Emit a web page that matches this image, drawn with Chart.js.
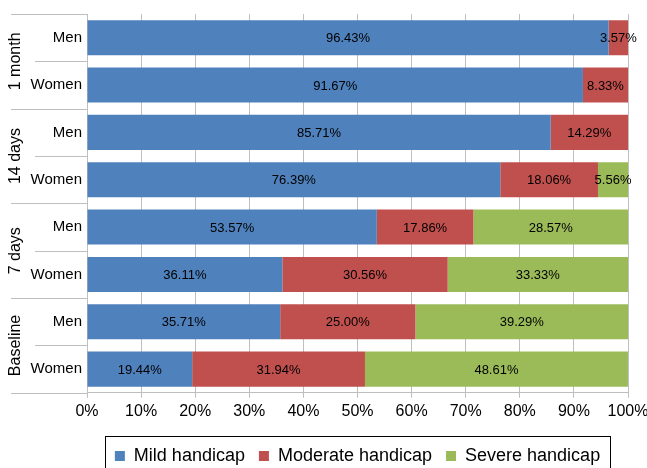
<!DOCTYPE html>
<html>
<head>
<meta charset="utf-8">
<script src="https://cdn.jsdelivr.net/npm/chart.js@4/dist/chart.umd.min.js"></script>
<style>
  html, body { margin: 0; padding: 0; background: #fff; overflow: hidden; }
  #wrap { width: 647px; height: 475px; position: relative; }
</style>
</head>
<body>
<div id="wrap"><canvas id="chart"></canvas></div>
<script>
// rows top to bottom
var groups = ['1 month', '14 days', '7 days', 'Baseline'];
var rows = ['Men', 'Women', 'Men', 'Women', 'Men', 'Women', 'Men', 'Women'];
var mild = [96.43, 91.67, 85.71, 76.39, 53.57, 36.11, 35.71, 19.44];
var moderate = [3.57, 8.33, 14.29, 18.06, 17.86, 30.56, 25.00, 31.94];
var severe = [0, 0, 0, 5.56, 28.57, 33.33, 39.29, 48.61];
var seriesNames = ['Mild handicap', 'Moderate handicap', 'Severe handicap'];
var colors = ['#4F81BD', '#C0504D', '#9BBB59'];

Chart.defaults.font.family = "'Liberation Sans', Arial, sans-serif";
Chart.defaults.color = '#000';

var gridColor = '#BFBFBF';

// group labels on the left, with separator lines
var groupAxis = {
  id: 'groupAxis',
  afterDraw: function (chart) {
    var y = chart.scales.y;
    var ctx = chart.ctx;
    var step = y.height / rows.length;
    var right = y.right;
    ctx.save();
    ctx.strokeStyle = gridColor;
    ctx.lineWidth = 1;
    for (var i = 0; i <= rows.length; i++) {
      var py = Math.round(y.top + i * step) + 0.5;
      ctx.beginPath();
      ctx.moveTo(i % 2 === 0 ? 11 : 35, py);
      ctx.lineTo(right, py);
      ctx.stroke();
    }
    ctx.fillStyle = '#000';
    ctx.font = "16px 'Liberation Sans', Arial, sans-serif";
    ctx.textAlign = 'center';
    ctx.textBaseline = 'middle';
    for (var g = 0; g < groups.length; g++) {
      var cy = y.top + (g * 2 + 1) * step;
      ctx.save();
      ctx.translate(16, cy);
      ctx.rotate(-Math.PI / 2);
      ctx.fillText(groups[g], 0, 0);
      ctx.restore();
    }
    ctx.restore();
  }
};

// value labels centred in each segment
var barLabels = {
  id: 'barLabels',
  afterDatasetsDraw: function (chart) {
    var ctx = chart.ctx;
    ctx.save();
    ctx.fillStyle = '#000';
    ctx.font = "13px 'Liberation Sans', Arial, sans-serif";
    ctx.textAlign = 'center';
    ctx.textBaseline = 'middle';
    chart.data.datasets.forEach(function (ds, di) {
      var meta = chart.getDatasetMeta(di);
      meta.data.forEach(function (el, i) {
        var v = ds.data[i];
        if (!v) return;
        ctx.fillText(v.toFixed(2) + '%', (el.x + el.base) / 2, el.y + 1);
      });
    });
    ctx.restore();
  }
};

// border round the legend
var legendBox = {
  id: 'legendBox',
  afterDraw: function (chart) {
    var boxes = chart.legend.legendHitBoxes;
    if (!boxes || !boxes.length) return;
    var l = Infinity, r = -Infinity, t = Infinity;
    boxes.forEach(function (b) {
      l = Math.min(l, b.left);
      r = Math.max(r, b.left + b.width);
      t = Math.min(t, b.top);
    });
    var ctx = chart.ctx;
    ctx.save();
    ctx.strokeStyle = '#000';
    ctx.lineWidth = 1;
    ctx.strokeRect(Math.round(l - 10) + 0.5, Math.round(t - 11) + 0.5, Math.round(r - l + 20), 60);
    ctx.restore();
  }
};

new Chart(document.getElementById('chart').getContext('2d'), {
  type: 'bar',
  data: {
    labels: rows,
    datasets: [
      { label: seriesNames[0], data: mild, backgroundColor: colors[0] },
      { label: seriesNames[1], data: moderate, backgroundColor: colors[1] },
      { label: seriesNames[2], data: severe, backgroundColor: colors[2] }
    ]
  },
  options: {
    indexAxis: 'y',
    responsive: true,
    maintainAspectRatio: false,
    animation: false,
    datasets: { bar: { categoryPercentage: 1, barPercentage: 0.74 } },
    layout: { padding: { top: 13, right: 19, left: 0, bottom: 0 } },
    scales: {
      x: {
        stacked: true,
        min: 0,
        max: 100,
        ticks: { stepSize: 10, font: { size: 16 }, padding: 4, callback: function (v) { return v + '%'; } },
        grid: { color: gridColor, tickLength: 5 },
        border: { color: gridColor },
        afterFit: function (s) { s.height += 8; s.paddingRight = 0; s.paddingLeft = 0; }
      },
      y: {
        stacked: true,
        ticks: { font: { size: 15 }, padding: 5 },
        grid: { display: false, drawTicks: false },
        border: { color: gridColor },
        afterFit: function (s) { s.width = 87; }
      }
    },
    plugins: {
      tooltip: { enabled: false },
      legend: {
        position: 'bottom',
        fullSize: false,
        labels: { boxWidth: 10, boxHeight: 10, font: { size: 18 }, padding: 14, color: '#000' }
      }
    }
  },
  plugins: [groupAxis, barLabels, legendBox]
});
</script>
</body>
</html>
